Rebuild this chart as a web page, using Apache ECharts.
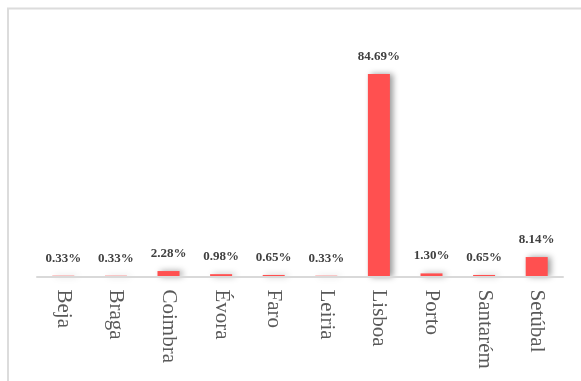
<!DOCTYPE html>
<html>
<head>
<meta charset="utf-8">
<style>
  html, body { margin: 0; padding: 0; background: #ffffff; }
  #chart { width: 581px; height: 381px; }
</style>
<script src="https://cdn.jsdelivr.net/npm/echarts@6/dist/echarts.min.js"></script>
</head>
<body>
<div id="chart"></div>
<script>
// Share of records per district (percent)
const districts = ['Beja', 'Braga', 'Coimbra', 'Évora', 'Faro', 'Leiria', 'Lisboa', 'Porto', 'Santarém', 'Setúbal'];
const shares = [0.33, 0.33, 2.28, 0.98, 0.65, 0.33, 84.69, 1.30, 0.65, 8.14];

const serif = 'Liberation Serif';

const chart = echarts.init(document.getElementById('chart'), null, { renderer: 'canvas' });

chart.setOption({
  animation: false,
  backgroundColor: '#ffffff',
  graphic: [
    {
      type: 'polyline',
      shape: { points: [[8, 381], [8, 8.5], [581, 8.5]] },
      style: { stroke: '#dcdcdc', lineWidth: 2, fill: null },
      silent: true
    }
  ],
  grid: { left: 37, right: 18, top: 37.5, bottom: 104.5 },
  xAxis: {
    type: 'category',
    data: districts,
    z: 5,
    axisLine: { lineStyle: { color: '#d9d9d9', width: 2 } },
    axisTick: { show: false },
    axisLabel: {
      rotate: -90,
      margin: 13,
      color: '#595959',
      fontFamily: serif,
      fontSize: 21
    }
  },
  yAxis: {
    type: 'value',
    min: 0,
    max: 100,
    show: false,
    splitLine: { show: false }
  },
  series: [
    {
      type: 'bar',
      data: shares,
      barWidth: 22,
      itemStyle: {
        color: '#ff5050',
        shadowColor: 'rgba(0, 0, 0, 0.4)',
        shadowBlur: 6,
        shadowOffsetX: 3,
        shadowOffsetY: 0
      },
      label: {
        show: true,
        position: 'top',
        distance: 11,
        formatter: p => p.value.toFixed(2) + '%',
        color: '#404040',
        fontWeight: 'bold',
        fontFamily: serif,
        fontSize: 13
      }
    }
  ]
});
</script>
</body>
</html>
